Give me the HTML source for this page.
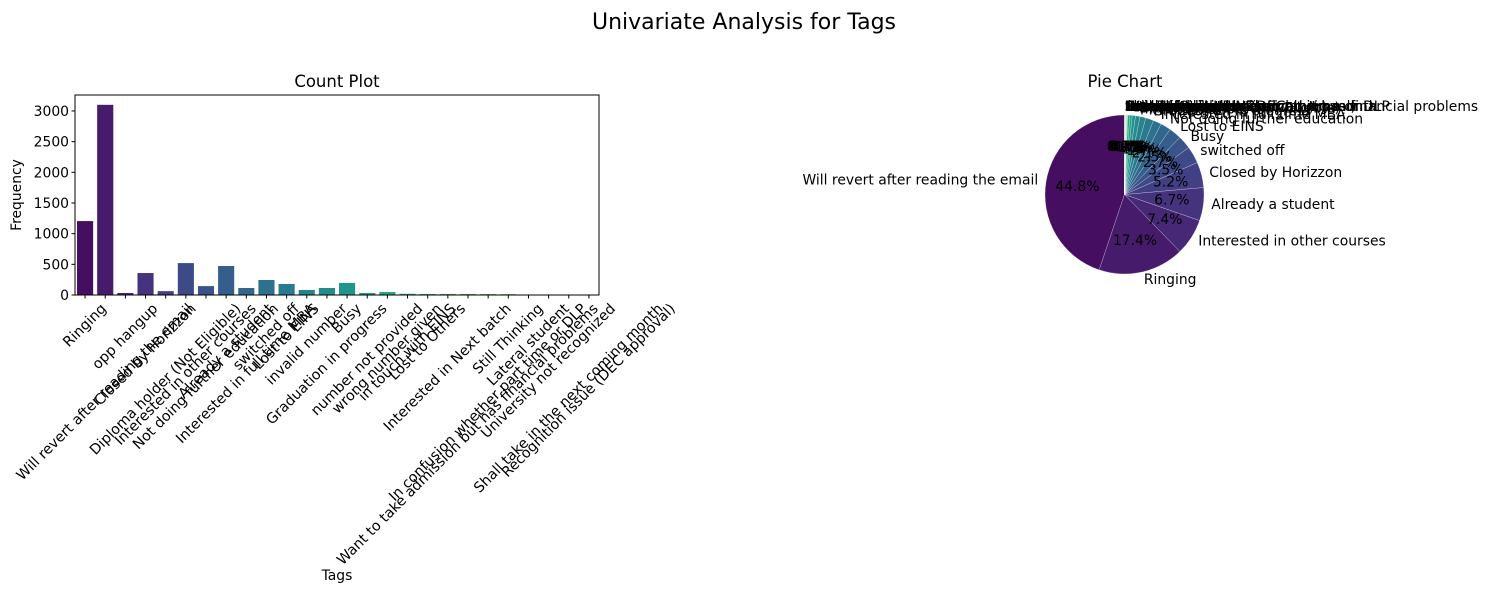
<!DOCTYPE html>
<html><head><meta charset="utf-8"><style>
html,body{margin:0;padding:0;background:#fff}
svg{display:block;font-family:"DejaVu Sans","Liberation Sans",sans-serif}
</style></head><body>
<svg id="svg" width="1488" height="593" viewBox="0 0 1488 593" xmlns="http://www.w3.org/2000/svg">
<text x="744" y="29" text-anchor="middle" font-size="22">Univariate Analysis for Tags</text>
<text x="337" y="87" text-anchor="middle" font-size="16.5">Count Plot</text>
<text x="1125" y="87" text-anchor="middle" font-size="16.5">Pie Chart</text>
<g id="bars"></g>
<g id="yaxis"></g>
<g id="xaxis"></g>
<rect x="75" y="95" width="524" height="200" fill="none" stroke="#000" stroke-width="1"/>
<text x="337" y="580" text-anchor="middle" font-size="13.9">Tags</text>
<text transform="translate(21,195) rotate(-90)" text-anchor="middle" font-size="13.9">Frequency</text>
<g id="pie"></g>
</svg>
<script>
const barCategories = ["Ringing","Will revert after reading the email","opp hangup","Closed by Horizzon","Diploma holder (Not Eligible)","Interested in other courses","Not doing further education","Already a student","Interested  in full time MBA","switched off","Lost to EINS","invalid number","Graduation in progress","Busy","number not provided","wrong number given","in touch with EINS","Lost to Others","Interested in Next batch","Want to take admission but has financial problems","In confusion whether part time or DLP","Still Thinking","Lateral student","University not recognized","Shall take in the next coming month","Recognition issue (DEC approval)"];
const barValues = [1205,3100,33,358,63,520,145,473,114,245,180,82,114,196,33,49,20,17,17,17,16,15,3,2,2,1];
const yTicks = [0,500,1000,1500,2000,2500,3000];
const pieLabels = ["Will revert after reading the email","Ringing","Interested in other courses","Already a student","Closed by Horizzon","switched off","Busy","Lost to EINS","Not doing further education","Interested  in full time MBA","Graduation in progress","invalid number","Diploma holder (Not Eligible)","wrong number given","opp hangup","number not provided","in touch with EINS","Lost to Others","Still Thinking","Want to take admission but has financial problems","Interested in Next batch","In confusion whether part time or DLP","Lateral student","University not recognized","Shall take in the next coming month","Recognition issue (DEC approval)"];
const pieValues = [3100,1205,513,465,358,240,186,175,145,117,111,83,63,47,33,27,9,7,6,6,5,5,3,2,2,1];

const NS="http://www.w3.org/2000/svg";
function mk(tag,attrs,parent){const e=document.createElementNS(NS,tag);for(const k in attrs)e.setAttribute(k,attrs[k]);parent.appendChild(e);return e;}
const vir=[[0,68,1,84],[.1,72,36,117],[.2,65,68,135],[.3,53,95,141],[.4,42,120,142],[.5,33,145,140],[.6,34,168,132],[.7,68,191,112],[.8,122,209,81],[.9,189,223,38],[1,253,231,37]];
function viridis(t){for(let i=1;i<vir.length;i++){if(t<=vir[i][0]){const a=vir[i-1],b=vir[i],f=(t-a[0])/(b[0]-a[0]);return `rgb(${[1,2,3].map(j=>Math.round(a[j]+(b[j]-a[j])*f)).join(',')})`;}}return 'rgb(253,231,37)';}
function pal(i,n){return viridis((i+1)/(n+1));}

// Bar chart
const X0=75,X1=599,Y0=295,Y1=95,YMAX=3260;
const n=barCategories.length,band=(X1-X0)/n;
const xS=i=>X0+band*(i+0.5);
const yS=v=>Y0-(v/YMAX)*(Y0-Y1);
const gB=document.getElementById('bars'),gY=document.getElementById('yaxis'),gX=document.getElementById('xaxis');
barValues.forEach((v,i)=>{
  const r=mk('rect',{x:xS(i)-band*0.4,y:yS(v),width:band*0.8,height:Y0-yS(v),fill:pal(i,n)},gB);
  
  
});
yTicks.forEach(t=>{
  const l=mk('line',{x1:X0-3.5,x2:X0,y1:yS(t),y2:yS(t),stroke:'#000','stroke-width':1},gY);
  
  
  const tx=mk('text',{x:X0-6,y:yS(t)+5,'text-anchor':'end','font-size':13.9},gY);
  tx.textContent=t;
  
  
});
barCategories.forEach((c,i)=>{
  const x=xS(i);
  const l=mk('line',{x1:x,x2:x,y1:Y0,y2:Y0+3.5,stroke:'#000','stroke-width':1},gX);
  
  
  const t=mk('text',{x:0,y:0,'text-anchor':'middle','dominant-baseline':'central','font-size':14.3},gX);
  t.textContent=c;
  
  
  const w=t.getComputedTextLength(),h=16;
  const H=(w+h)*Math.SQRT1_2;
  t.setAttribute('transform',`translate(${x},${Y0+6+H/2}) rotate(-45)`);
});

// Pie chart
const cx=1124.5,cy=194.5,R=79.5;
const gP=document.getElementById('pie');
const tot=pieValues.reduce((a,b)=>a+b,0);
let ang=90;
const m=pieValues.length;
pieValues.forEach((v,i)=>{
  const sweep=v/tot*360,a0=ang,a1=ang+sweep;ang=a1;
  const rad=d=>d*Math.PI/180;
  const p0=[cx+R*Math.cos(rad(a0)),cy-R*Math.sin(rad(a0))],p1=[cx+R*Math.cos(rad(a1)),cy-R*Math.sin(rad(a1))];
  const path=mk('path',{d:`M${cx},${cy} L${p0[0]},${p0[1]} A${R},${R} 0 ${sweep>180?1:0} 0 ${p1[0]},${p1[1]} Z`,fill:pal(i,m),stroke:'#fff','stroke-width':0.4,'stroke-opacity':0.6},gP);
  
  
});
ang=90;
pieValues.forEach((v,i)=>{
  const sweep=v/tot*360,mid=(ang+sweep/2)*Math.PI/180;ang+=sweep;
  const lx=cx+1.1*R*Math.cos(mid),ly=cy-1.1*R*Math.sin(mid);
  const t=mk('text',{x:lx,y:ly,'text-anchor':Math.cos(mid)>=0?'start':'end','dominant-baseline':'central','font-size':13.9},gP);
  t.textContent=pieLabels[i];
  
  
  const px=cx+0.6*R*Math.cos(mid),py=cy-0.6*R*Math.sin(mid);
  const p=mk('text',{x:px,y:py,'text-anchor':'middle','dominant-baseline':'central','font-size':13.9},gP);
  p.textContent=(v/tot*100).toFixed(1)+'%';
  
  
});
</script>
</body></html>
